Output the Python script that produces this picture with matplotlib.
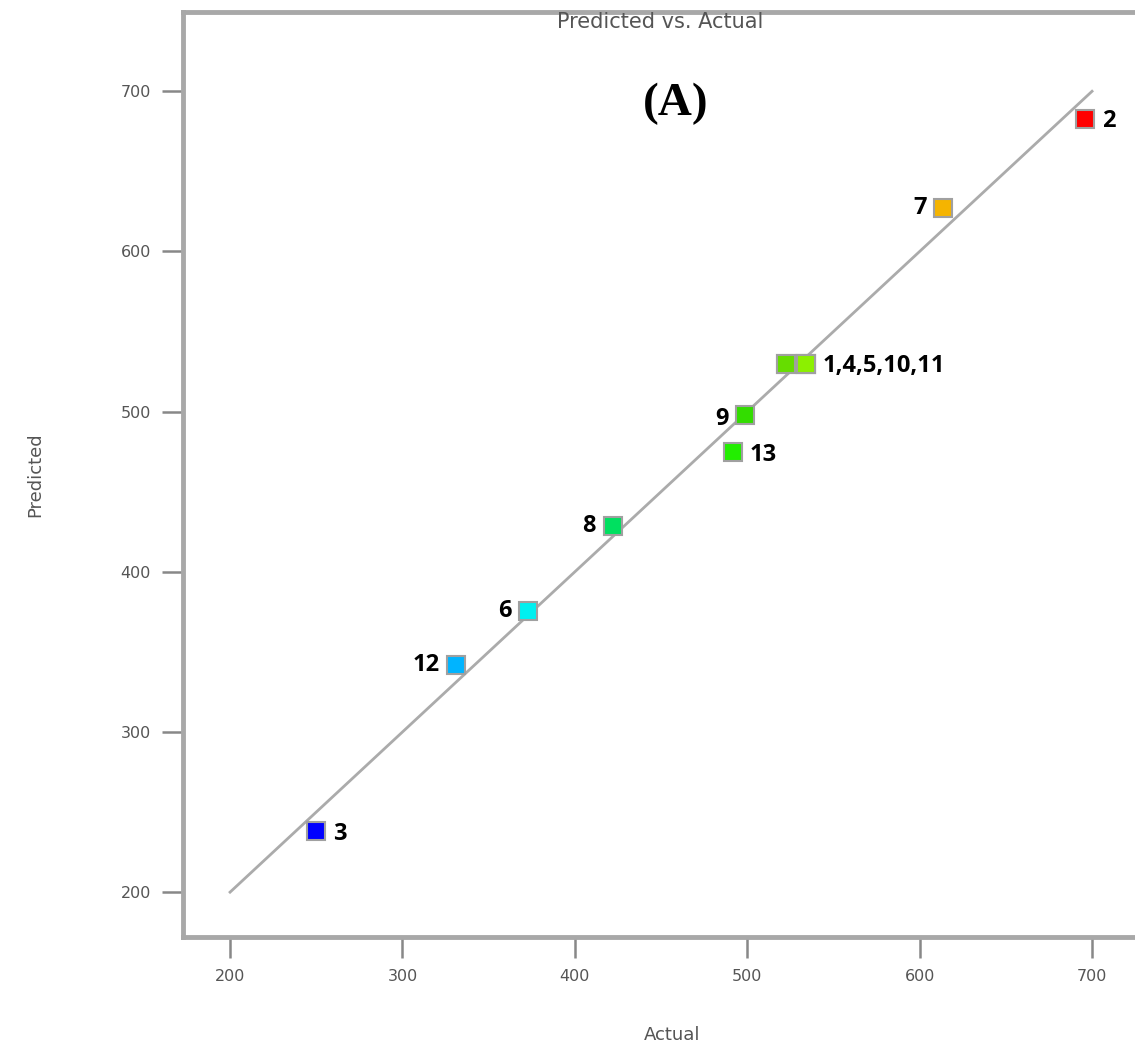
import matplotlib.pyplot as plt

# data
actual = [696, 613.6, 522.5, 522.5, 534, 534, 534, 498.7, 491.8, 422, 372.9, 331, 249.9]
predicted = [683, 627, 529.6, 529.6, 529.6, 529.6, 529.6, 497.8, 474.7, 428.5, 375.4, 341.7, 238]
point_colors = ['#ff0000', '#f5b400', '#66dd00', '#66dd00', '#8cf000', '#8cf000', '#8cf000',
                '#33dd00', '#22ee00', '#00e060', '#00f0f0', '#00b4ff', '#0000ff']

# labels: text, x, y, offset (points), alignment
labels = ['2', '7', '1,4,5,10,11', '9', '13', '8', '6', '12', '3']
label_x = [696, 613.6, 534, 498.7, 491.8, 422, 372.9, 331, 249.9]
label_y = [683, 627, 529.6, 497.8, 474.7, 428.5, 375.4, 341.7, 238]
label_dx = [12, -12, 12, -12, 12, -12, -12, -12, 12]
label_ha = ['left', 'right', 'left', 'right', 'left', 'right', 'right', 'right', 'left']
label_dy = [-2, 0, -1, -3, -2, 0, 0, 0, -2]

fig = plt.figure(figsize=(11.35, 10.57), dpi=100)
ax = fig.add_axes([183 / 1135, 120 / 1057, 978 / 1135, 925 / 1057])

ax.plot([200, 700], [200, 700], color='#ababab', lw=2, zorder=1)

for i in range(len(actual)):
    ax.plot(actual[i], predicted[i], 's', ms=13, color=point_colors[i],
            mec='#a0a0a0', mew=1.5, zorder=3)

for i in range(len(labels)):
    ax.annotate(labels[i], (label_x[i], label_y[i]), xytext=(label_dx[i], label_dy[i]),
                textcoords='offset points', ha=label_ha[i], va='center',
                fontsize=17, fontweight='bold', family='Open Sans', color='black')

ax.text(458.7, 692, '(A)', ha='center', va='center', fontsize=34, fontweight='bold',
        family='Liberation Serif')

ax.set_xlim(172.7, 740)
ax.set_ylim(172, 749.5)
ax.set_xticks([200, 300, 400, 500, 600, 700])
ax.set_yticks([200, 300, 400, 500, 600, 700])

for s in ['left', 'top', 'bottom', 'right']:
    ax.spines[s].set_color('#a8a8a8')
    ax.spines[s].set_linewidth(3.5)

ax.tick_params(axis='both', colors='#888888', labelcolor='#555555', labelsize=11.5,
               length=15, width=1.8, pad=8)

ax.set_xlabel('Actual', color='#555555', fontsize=13, labelpad=30)
ax.set_ylabel('Predicted', color='#555555', fontsize=13, labelpad=55)
fig.text(660 / 1135, 1 - 22 / 1057, 'Predicted vs. Actual', ha='center', va='center',
         color='#555555', fontsize=15)

fig.savefig('out.png', dpi=100)
